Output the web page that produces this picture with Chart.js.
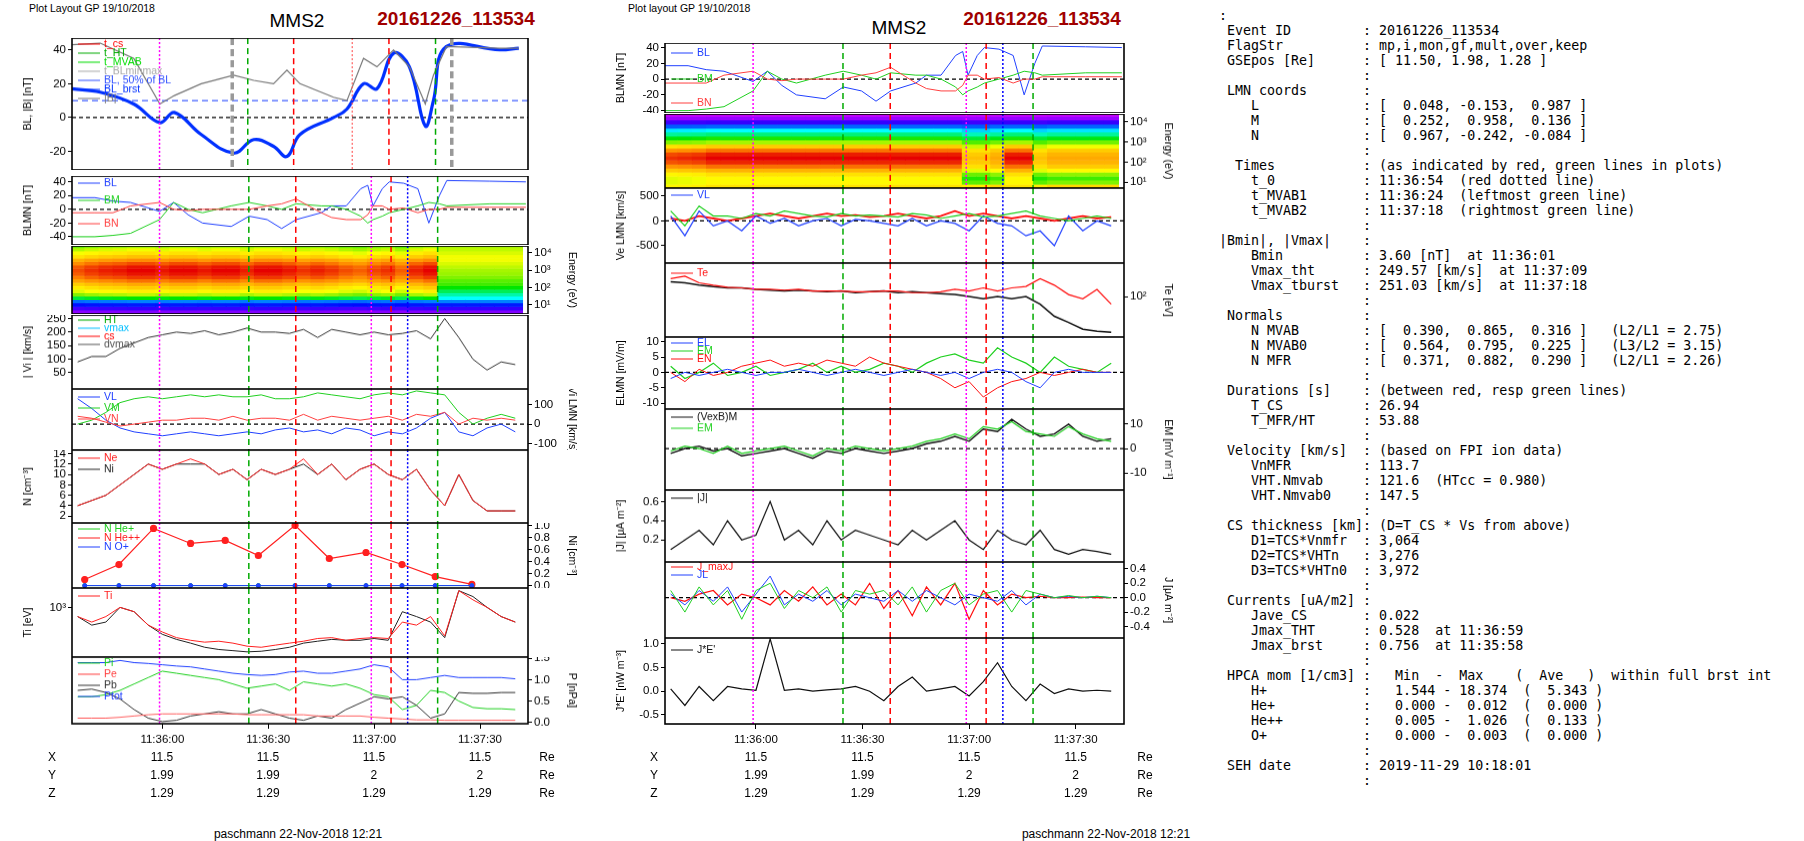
<!DOCTYPE html>
<html><head><meta charset="utf-8">
<script src="https://cdn.jsdelivr.net/npm/chart.js@4/dist/chart.umd.min.js"></script>
<style>
body{margin:0;background:#fff;width:1804px;height:841px;position:relative;overflow:hidden;font-family:"Liberation Sans",Arial,sans-serif}
canvas{position:absolute}
.t{position:absolute;white-space:pre;color:#000}
#info{position:absolute;left:1219px;top:8px;font-family:"DejaVu Sans Mono",monospace;font-size:13.3px;line-height:15px;white-space:pre}
</style></head><body>
<div id="info"></div>
<script>
// ---------------- DATA ----------------
const timeTicks = [30, 60, 90, 120];
const timeTickLabels = ['11:36:00', '11:36:30', '11:37:00', '11:37:30'];
const T = [6,10,14,18,22,26,30,34,38,42,46,50,54,58,62,66,70,74,78,82,86,90,94,98,102,106,110,114,118,122,126,130];
// left panel 1 (smoothed BL and |B|)
const T_BLs = [4.4,12.4,21.9,29.3,33.4,41,50.2,55.9,61.5,65.3,69,78.5,82.3,87,90.8,95.5,100,104.5,106.8,110.5,125.6,131];
const BL_smooth = [17,15,8,-3,3,-10,-21,-13,-17,-23,-10,0,5,20,17,38,30,-5,10,42,40,41];
const B_mag = [43,44,35,8,13,20,25,22,20,28,20,12,10,35,30,40,30,8,25,42,41,41];
// B LMN
const T_B = [4.4,10.9,16,21,29.2,33.2,37.3,41.4,49.5,54.6,59.7,63.8,67.9,75,78,82.1,86.2,88.2,89.7,92.3,94.3,98.4,102.4,105.5,108.5,110.6,122.8,133];
const B_L = [17,17,12,10,-3,10,-8,-20,-25,-10,-15,-28,-15,-5,5,5,30,35,5,30,40,38,30,-20,20,42,41,40];
const B_M = [-40,-40,-38,-35,-15,10,0,-5,5,10,5,0,8,5,5,0,-10,-20,-15,-10,-5,0,5,10,8,5,8,8];
const B_N = [-5,-5,-5,5,10,0,-2,0,0,0,5,8,15,-5,-12,-15,-15,-8,5,5,0,2,-5,0,0,3,3,3];
// ion velocity
const Vi_mag = [90,110,110,140,160,180,190,200,195,205,190,200,215,200,200,195,210,180,210,200,190,200,190,195,205,175,250,180,100,60,90,80];
const Vi_L = [130,80,20,-20,-40,-50,-60,-50,-40,-50,-60,-50,-40,-50,-30,-20,-40,-30,-50,-20,-30,-60,-40,-50,-20,30,60,-40,-60,-20,0,-40];
const Vi_M = [0,20,60,110,130,140,130,140,150,140,150,140,140,150,130,130,140,160,150,140,130,150,160,150,170,160,150,60,0,30,50,30];
const Vi_N = [40,30,10,-10,0,10,20,20,30,30,20,40,20,30,30,20,50,20,40,30,20,30,40,20,50,40,60,0,30,20,30,20];
// densities
const N_e = [4,5,6,8,10,12,11,12,13,12,10,11,9,11,10,11,13,10,12,9,11,12,10,9,11,7,4,10,5,3,3,3];
const N_i = [4,5,6,8,10,12,11,12,12,12,10,11,9,11,10,11,12,10,12,9,11,12,10,9,11,7,4,10,5,3,3,3];
const T_He = [8,17.7,27.5,38,47.8,57.2,67.6,77.3,87.7,97.9,107.3,117.7];
const N_Hepp = [0.1,0.35,0.95,0.7,0.75,0.5,1.0,0.45,0.55,0.35,0.15,0.02];
const N_Hep = [0,0,0,0,0,0,0,0,0,0,0,0];
const N_Op = [0,0,0,0,0,0,0,0,0,0,0,0];
// ion temperature
const Ti_par = [800,700,800,1000,900,650,550,480,450,430,440,420,390,380,400,420,440,470,480,450,470,480,470,700,650,800,500,1500,1200,1000,800,700];
const Ti_perp = [800,650,700,1000,900,650,520,460,420,380,360,350,340,345,360,380,420,440,460,450,450,470,450,900,800,700,480,1500,1300,1000,800,700];
// pressures
const P_tot = [1.4,1.4,1.4,1.45,1.4,1.38,1.35,1.32,1.3,1.25,1.2,1.15,1.12,1.1,1.12,1.18,1.2,1.15,1.15,1.2,1.25,1.35,1.3,1.0,1.0,1.05,1.1,1.05,1.05,1.05,1.05,1.02];
const P_i = [0.6,0.6,0.65,0.75,0.9,1.05,1.2,1.15,1.1,1.05,1.0,0.9,0.8,0.85,0.9,0.75,0.95,0.9,0.85,0.9,0.8,0.65,0.6,0.3,0.4,0.75,0.7,0.5,0.35,0.32,0.32,0.3];
const P_e = [0.1,0.1,0.1,0.12,0.15,0.18,0.2,0.2,0.2,0.2,0.2,0.2,0.18,0.18,0.18,0.18,0.18,0.15,0.15,0.15,0.15,0.12,0.1,0.08,0.06,0.06,0.05,0.05,0.05,0.05,0.05,0.05];
const P_B = [0.75,0.78,0.7,0.55,0.3,0.1,0.02,0.05,0.15,0.2,0.25,0.2,0.2,0.3,0.2,0.1,0.05,0.15,0.1,0.3,0.45,0.6,0.55,0.6,0.4,0.1,0.2,0.7,0.68,0.68,0.7,0.7];
// electron velocity
const Ve_L = [100,-300,200,-100,0,-200,100,-50,50,-100,0,50,-100,30,0,-50,-100,50,-100,0,-50,-200,100,-50,-100,-300,-200,-500,100,-200,0,-100];
const Ve_M = [200,-100,300,100,100,50,150,100,200,150,100,80,150,100,120,100,80,150,120,50,100,150,80,100,150,200,100,50,0,50,100,50];
const Ve_N = [50,0,100,50,0,50,100,150,100,50,100,150,100,120,80,100,150,100,50,100,200,100,150,100,50,100,50,0,50,100,50,80];
// electron temperature
const Te_perp = [200,190,170,160,150,150,140,135,130,135,130,125,130,120,125,130,120,125,120,115,110,100,90,100,90,100,70,40,30,22,20,19];
const Te_par = [230,260,190,170,155,150,140,140,135,140,130,130,130,125,125,130,130,120,120,125,140,130,150,130,150,160,230,170,110,90,140,70];
// electric field
const E_L = [-2,0,-1,0,1,0,-1,0,0,1,0,-1,0,1,0,-1,0,1,0,-1,0,-2,0,1,0,-3,-5,0,1,0,0,0];
const E_M = [2,-2,0,3,-1,0,2,-1,0,1,3,0,2,0,1,3,2,0,3,5,6,4,3,8,5,3,0,5,2,1,0,3];
const E_N = [0,-3,1,-1,0,2,3,4,2,3,2,4,3,2,5,3,2,1,0,-2,-5,-3,-8,-5,-3,-2,0,-1,0,1,0,0];
const EM_vexb = [-2,0,1,-1,0,-3,-2,-1,0,-2,-4,-1,-2,0,-1,-2,-1,0,2,3,5,3,8,7,12,8,5,6,10,5,3,4];
const EM_meas = [-1,1,0,-2,1,-2,-1,0,1,-1,-3,0,-1,1,0,-1,0,1,3,4,6,4,9,8,11,7,6,5,9,6,4,3];
// currents
const J_mag = [0.1,0.2,0.3,0.15,0.4,0.2,0.25,0.6,0.2,0.3,0.15,0.4,0.2,0.3,0.25,0.2,0.15,0.3,0.2,0.3,0.4,0.2,0.1,0.3,0.2,0.15,0.3,0.1,0.05,0.1,0.08,0.05];
const J_L = [0.05,-0.1,0.1,-0.05,0.15,-0.2,0.05,0.3,-0.1,0.05,-0.05,0.1,-0.1,0.05,0,-0.05,0.1,-0.05,0.1,0,-0.1,0.05,0,-0.05,0.1,-0.1,0.05,0,0.02,0,0.02,0];
const J_M = [0.1,-0.2,0.15,-0.1,0.1,-0.3,0.1,0.2,-0.15,0.1,0,0.15,-0.2,0.1,0.05,0.1,-0.1,0.15,-0.2,0.1,0.2,-0.1,0.05,0.1,-0.2,0.1,0.05,0,0.03,0,0.02,0];
const J_N = [0,-0.05,0.05,0.1,-0.1,0.05,0,-0.1,0.1,-0.05,0.15,-0.1,0.05,-0.1,0.2,-0.15,0.1,-0.25,0.15,-0.1,0.2,-0.3,0.1,-0.1,0.05,0,0.02,0,0,0.01,0,0];
const JE = [0.05,-0.3,0.1,-0.2,0.1,0.05,0.02,1.1,0.02,0.05,0,0.03,0.05,0.1,0,-0.2,0.1,0.3,0,0.05,0.1,-0.1,0.2,0.6,0.1,-0.2,0.15,-0.05,0.05,0,0.02,0];
// spectrograms
const E_edges = [3,5,8,13,20,32,50,80,130,200,320,500,800,1300,2000,3200,5000,8000,13000,20000,32000];
const ionProfileSheath = [0.05,0.08,0.12,0.2,0.45,0.6,0.68,0.74,0.8,0.88,0.94,0.98,1.0,0.98,0.92,0.85,0.76,0.7,0.64,0.58];
const ionProfileSphere = [0.05,0.08,0.12,0.2,0.3,0.35,0.4,0.45,0.5,0.52,0.55,0.57,0.58,0.6,0.62,0.64,0.64,0.62,0.6,0.58];
const ionRegime = [0,0,0,0,0,0,0,0,0,0,0,0,0,0,0,0,0,0,0,0,0,0,0,0,0,0,1,1,1,1,1,1];
const ionIntensity = [0.92,0.95,0.97,0.98,1,1,0.98,1,1,0.98,1,1,0.97,1,1,0.98,0.95,0.97,0.95,0.92,0.9,0.93,0.95,0.9,0.97,1,1,1,1,1,1,1];
const eProfileSheath = [0.72,0.7,0.66,0.66,0.7,0.78,0.88,0.96,1.0,0.97,0.88,0.74,0.58,0.47,0.38,0.3,0.18,0.08,0.04,0.02];
const eProfileSphere = [0.78,0.72,0.55,0.5,0.56,0.66,0.74,0.78,0.8,0.78,0.74,0.64,0.54,0.44,0.36,0.28,0.18,0.08,0.04,0.02];
const eRegime = [0,0,0,0,0,0,0,0,0,0,0,0,0,0,0,0,0,0,0,0,0,1,1,1,0,0,1,1,1,1,1,1];
const eIntensity = [0.95,0.96,0.97,1,1,1,1,1,1,1,1,1,1,1,1,1,1,1,1,1,1,0.95,0.95,1,1,1,0.95,1,1,1,1,1];
// coordinate table
const posX = ['11.5','11.5','11.5','11.5'];
const posY = ['1.99','1.99','2','2'];
const posZ = ['1.29','1.29','1.29','1.29'];
// event marker lines [time, color, dash, width]
const markers = [[29.2,'#ff00ff',[2,2],1.5],[54.5,'#00aa00',[6,4],1.5],[67.8,'#ff0000',[6,4],1.5],[89.2,'#ff00ff',[2,2],1.5],[94.8,'#ff0000',[6,4],1.5],[99.5,'#0000ff',[2,2],1.5],[108,'#00aa00',[6,4],1.5]];
const markersP1 = [[29.2,'#ff00ff',[2,2],1.5],[49.8,'#999999',[7,4],3.5],[54.2,'#00aa00',[6,4],1.5],[67.2,'#ff0000',[6,4],1.5],[83.8,'#ff6060',[2,2],1.2],[94.2,'#ff0000',[6,4],1.5],[107.4,'#00aa00',[6,4],1.5],[112,'#999999',[7,4],3.5]];

// ---------------- LAYOUT / DRAWING ----------------
const S = 1804/1564;
const TMIN = 4.4, TMAX = 133.6;
const COLS = {L:{x0:71.5,x1:528}, R:{x0:665,x1:1124}};
const PAD = 50;

function cmap(v){
  const st=[[0,[255,0,255]],[0.1,[0,0,255]],[0.3,[0,255,255]],[0.45,[0,230,0]],[0.65,[255,255,0]],[0.85,[255,140,0]],[1,[230,0,0]]];
  v=Math.max(0,Math.min(1,v));
  for(let i=1;i<st.length;i++){ if(v<=st[i][0]){const a=st[i-1],b=st[i];const f=(v-a[0])/(b[0]-a[0]);
    return 'rgb('+a[1].map((c,k)=>Math.round(c+(b[1][k]-c)*f)).join(',')+')';}}
  return 'rgb(230,0,0)';
}

Chart.register({id:'deco',
  beforeDatasetsDraw(chart){
    const o=chart.options.plugins.deco||{}; const ctx=chart.ctx; const ca=chart.chartArea;
    if(o.spec){ const sp=o.spec, xs=chart.scales.x, ys=chart.scales.y;
      ctx.save(); ctx.beginPath(); ctx.rect(ca.left,ca.top,ca.right-ca.left,ca.bottom-ca.top); ctx.clip();
      T.forEach((t,i)=>{ const prof=sp.profiles[sp.regime[i]];
        const xa=xs.getPixelForValue(t-2.05), xb=xs.getPixelForValue(t+2.05);
        for(let j=0;j<prof.length;j++){ const ya=ys.getPixelForValue(E_edges[j]), yb=ys.getPixelForValue(E_edges[j+1]);
          ctx.fillStyle=cmap(prof[j]*sp.intensity[i]); ctx.fillRect(xa,yb,xb-xa+0.5,ya-yb+0.5);} });
      ctx.restore(); }
    (o.hlines||[]).forEach(h=>{ const y=chart.scales.y.getPixelForValue(h[0]); ctx.save(); ctx.strokeStyle=h[1]; ctx.lineWidth=1.2; ctx.setLineDash(h[2]); ctx.beginPath(); ctx.moveTo(ca.left,y); ctx.lineTo(ca.right,y); ctx.stroke(); ctx.restore(); });
  },
  afterDatasetsDraw(chart){
    const o=chart.options.plugins.deco||{}; const ctx=chart.ctx; const ca=chart.chartArea;
    (o.markers||[]).forEach(m=>{ const x=chart.scales.x.getPixelForValue(m[0]); ctx.save(); ctx.strokeStyle=m[1]; ctx.lineWidth=m[3]; ctx.setLineDash(m[2]); ctx.beginPath(); ctx.moveTo(x,ca.top); ctx.lineTo(x,ca.bottom); ctx.stroke(); ctx.restore(); });
    (o.labels||[]).forEach((l,i)=>{ ctx.save(); ctx.font='10.5px "Liberation Sans",Arial'; const x=ca.left+(l[2]||6), y=ca.top+(l[3]!==undefined?l[3]:9+i*11);
      if(l[4]!==false){ctx.strokeStyle=l[1]; ctx.lineWidth=1; ctx.beginPath(); ctx.moveTo(x,y); ctx.lineTo(x+22,y); ctx.stroke();}
      ctx.fillStyle=l[1]; ctx.textBaseline='middle'; ctx.fillText(l[0],x+(l[4]===false?0:26),y); ctx.restore(); });
    ctx.save(); ctx.strokeStyle='#000'; ctx.lineWidth=1.6; ctx.setLineDash([]); ctx.strokeRect(ca.left,ca.top,ca.right-ca.left,ca.bottom-ca.top); ctx.restore();
  }});

function series(xs, ys, color, width, extra){
  return Object.assign({data:xs.map((x,i)=>({x:x,y:ys[i]})), borderColor:color, backgroundColor:color, borderWidth:width||1, pointRadius:0, tension:0, yAxisID:'y'}, extra||{});
}

function panel(col, topV, botV, cfg){
  const c=COLS[col]; const top=topV*S, bot=botV*S; const xh=cfg.bottom?30:0;
  const cv=document.createElement('canvas'); const w=(c.x1-c.x0)+2*PAD, h=(bot-top)+xh;
  cv.width=w; cv.height=h; cv.style.left=(c.x0-PAD)+'px'; cv.style.top=top+'px'; cv.style.width=w+'px'; cv.style.height=h+'px';
  document.body.appendChild(cv);
  const tickFont={size:11.5,family:'"Liberation Sans",Arial'};
  function yAxis(pos){ const shown = pos===cfg.side;
    const ax={type:cfg.type||'linear', position:pos, min:cfg.min, max:cfg.max,
      afterFit:s=>{s.width=PAD; s.paddingTop=0; s.paddingBottom=0;},
      grid:{display:true,drawOnChartArea:false,drawTicks:true,tickLength:shown?4:0,color:'#000'},
      border:{display:false},
      ticks:{display:shown,font:tickFont,color:'#000',padding:2,autoSkip:false,callback:cfg.fmt||(v=>v)},
      title:{display:shown&&!!cfg.title,text:cfg.title,font:{size:10.5,family:'"Liberation Sans",Arial'},color:'#000',padding:{top:0,bottom:0}}};
    if(cfg.tickVals) ax.afterBuildTicks=s=>{s.ticks=cfg.tickVals.map(v=>({value:v}));};
    return ax; }
  new Chart(cv,{type:'line',data:{datasets:cfg.datasets||[]},options:{
    responsive:false, animation:false, devicePixelRatio:1,
    layout:{autoPadding:false,padding:0},
    plugins:{legend:{display:false},tooltip:{enabled:false},
      deco:{markers:cfg.markers||markers, labels:cfg.labels, hlines:cfg.hlines, spec:cfg.spec}},
    scales:{
      x:{type:'linear',min:TMIN,max:TMAX,display:!!cfg.bottom,
        afterFit:s=>{s.height=xh; s.paddingLeft=0; s.paddingRight=0;}, afterBuildTicks:s=>{s.ticks=timeTicks.map(v=>({value:v}));},
        grid:{display:true,drawOnChartArea:false,tickLength:5,color:'#000'}, border:{display:false},
        ticks:{font:tickFont,color:'#000',maxRotation:0,padding:4,callback:v=>timeTickLabels[timeTicks.indexOf(v)]}},
      y:yAxis('left'), y2:yAxis('right')}}});
}
const sup={1:'¹',2:'²',3:'³',4:'⁴'};
const logFmt=v=>'10'+sup[Math.round(Math.log10(v))];

// ---- LEFT COLUMN ----
panel('L',33,147,{side:'left',min:-31,max:47,tickVals:[-20,0,20,40],title:'BL, |B| [nT]',markers:markersP1,
  hlines:[[0,'#000',[4,3]],[10,'#4060ff',[6,4]]],
  datasets:[series(T_BLs,B_mag,'#777',1.2),series(T_BLs,BL_smooth,'#0030ff',3.2,{tension:0.4})],
  labels:[['t_cs','#ff0000',6,6],['t_HT','#00aa00',6,15],['t_MVAB','#00dd00',6,24],['t_BLminmax','#aaa',6,33],['BL, 50% of BL','#3050ff',6,42],['BL_brst','#0030ff',6,51],['|B|','#777',6,60]]});
panel('L',153,212,{side:'left',min:-52,max:48.5,tickVals:[-40,-20,0,20,40],title:'BLMN [nT]',
  hlines:[[0,'#000',[4,3]]],
  datasets:[series(T_B,B_N,'#ff4040',1),series(T_B,B_M,'#20d020',1),series(T_B,B_L,'#2040ff',1)],
  labels:[['BL','#2040ff',6,7],['BM','#20d020',6,24],['BN','#ff4040',6,47]]});
panel('L',213,272,{side:'right',type:'logarithmic',min:2.9,max:25000,tickVals:[10,100,1000,10000],fmt:logFmt,title:'Energy (eV)',
  spec:{profiles:[ionProfileSheath,ionProfileSphere],regime:ionRegime,intensity:ionIntensity}});
panel('L',273,337,{side:'left',min:-10,max:263,tickVals:[50,100,150,200,250],title:'| Vi | [km/s]',
  datasets:[series(T,Vi_mag,'#333',1)],
  labels:[['HT','#00aa00',6,5],['vmax','#00bfff',6,13],['cs','#ff0000',6,21],['dvmax','#555',6,29]]});
panel('L',337,390,{side:'right',min:-133,max:180,tickVals:[-100,0,100],title:'Vi LMN [km/s]',
  hlines:[[0,'#000',[4,3]]],
  datasets:[series(T,Vi_N,'#ff4040',1),series(T,Vi_M,'#20d020',1),series(T,Vi_L,'#2040ff',1)],
  labels:[['VL','#2040ff',6,8],['VM','#20d020',6,19],['VN','#ff4040',6,30]]});
panel('L',390,453,{side:'left',min:0.67,max:14.7,tickVals:[2,4,6,8,10,12,14],title:'N [cm⁻³]',
  datasets:[series(T,N_e,'#ff2020',1),series(T,N_i,'#222',1)],
  labels:[['Ne','#ff2020',6,8],['Ni','#222',6,19]]});
panel('L',453,510,{side:'right',min:-0.04,max:1.04,tickVals:[0,0.2,0.4,0.6,0.8,1.0],fmt:v=>v.toFixed(1),title:'Ni [cm⁻³]',
  datasets:[series(T_He,N_Op,'#2040ff',1,{pointRadius:2}),series(T_He,N_Hep,'#20d020',1,{pointRadius:2}),series(T_He,N_Hepp,'#ff2020',1.2,{pointRadius:3})],
  labels:[['N He+','#20d020',6,6],['N He++','#ff2020',6,15],['N O+','#2040ff',6,24]]});
panel('L',510,570,{side:'left',type:'logarithmic',min:300,max:1600,tickVals:[1000],fmt:logFmt,title:'Ti [eV]',
  datasets:[series(T,Ti_par,'#ff2020',1),series(T,Ti_perp,'#222',1)],
  labels:[['Ti','#ff2020',6,8]]});
panel('L',570,628,{side:'right',min:-0.03,max:1.53,tickVals:[0,0.5,1.0,1.5],fmt:v=>v.toFixed(1),title:'P [nPa]',bottom:true,
  datasets:[series(T,P_e,'#ff6060',1),series(T,P_B,'#333',1),series(T,P_i,'#20d020',1),series(T,P_tot,'#2040ff',1)],
  labels:[['Pi','#20d020',6,6],['Pe','#ff4040',6,17],['Pb','#333',6,28],['Ptot','#2040ff',6,39]]});

// ---- RIGHT COLUMN ----
panel('R',37,98,{side:'left',min:-43,max:45.8,tickVals:[-40,-20,0,20,40],title:'BLMN [nT]',
  hlines:[[0,'#000',[4,3]]],
  datasets:[series(T_B,B_N,'#ff4040',1),series(T_B,B_M,'#20d020',1),series(T_B,B_L,'#2040ff',1)],
  labels:[['BL','#2040ff',6,10],['BM','#20d020',6,36],['BN','#ff4040',6,60]]});
panel('R',99,163,{side:'right',type:'logarithmic',min:5.1,max:25400,tickVals:[10,100,1000,10000],fmt:logFmt,title:'Energy (eV)',
  spec:{profiles:[eProfileSheath,eProfileSphere],regime:eRegime,intensity:eIntensity}});
panel('R',163,228,{side:'left',min:-849,max:663,tickVals:[-500,0,500],title:'Ve LMN [km/s]',
  hlines:[[0,'#000',[4,3]]],
  datasets:[series(T,Ve_M,'#20d020',1.2),series(T,Ve_L,'#2040ff',1.2),series(T,Ve_N,'#ff1010',1.8)],
  labels:[['VL','#2040ff',6,7]]});
panel('R',228,292,{side:'right',type:'logarithmic',min:15.2,max:477,tickVals:[100],fmt:logFmt,title:'Te [eV]',
  datasets:[series(T,Te_par,'#ff1010',1.2),series(T,Te_perp,'#111',1.5)],
  labels:[['Te','#ff1010',6,10]]});
panel('R',292,355,{side:'left',min:-11.9,max:11.5,tickVals:[-10,-5,0,5,10],title:'ELMN [mV/m]',
  hlines:[[0,'#000',[4,3]]],
  datasets:[series(T,E_L,'#2040ff',1),series(T,E_N,'#ff1010',1),series(T,E_M,'#20d020',1.2)],
  labels:[['EL','#2040ff',6,6],['EM','#20d020',6,14],['EN','#ff1010',6,22]]});
panel('R',355,425,{side:'right',min:-17,max:16.2,tickVals:[-10,0,10],title:'EM [mV m⁻¹]',
  hlines:[[0,'#000',[4,3]]],
  datasets:[series(T,EM_meas,'#20d020',1.2),series(T,EM_vexb,'#111',1.4)],
  labels:[['(VexB)M','#111',6,8],['EM','#20d020',6,19]]});
panel('R',425,487,{side:'left',min:-0.03,max:0.72,tickVals:[0.2,0.4,0.6],fmt:v=>v.toFixed(1),title:'|J| [μA m⁻²]',
  datasets:[series(T,J_mag,'#111',1.2)],
  labels:[['|J|','#111',6,8]]});
panel('R',487,553,{side:'right',min:-0.56,max:0.496,tickVals:[-0.4,-0.2,0,0.2,0.4],fmt:v=>v.toFixed(1),title:'J [μA m⁻²]',
  hlines:[[0,'#000',[4,3]]],
  datasets:[series(T,J_M,'#20d020',1),series(T,J_L,'#2040ff',1),series(T,J_N,'#ff1010',1.2)],
  labels:[['J_maxJ','#ff1010',6,5],['JL','#2040ff',6,13]]});
panel('R',553,628,{side:'left',min:-0.69,max:1.12,tickVals:[-0.5,0,0.5,1.0],fmt:v=>v.toFixed(1),title:"J*E' [nW m⁻³]",bottom:true,
  datasets:[series(T,JE,'#111',1.2)],
  labels:[["J*E'",'#111',6,12]]});

// ---- TEXTS ----
function txt(s,x,y,css,center){ const d=document.createElement('div'); d.className='t'; d.textContent=s;
  d.style.cssText+=';left:'+x+'px;top:'+y+'px;'+(css||'')+(center?';transform:translate(-50%,-50%)':';transform:translateY(-50%)'); document.body.appendChild(d); }
txt('Plot Layout GP 19/10/2018',29,8,'font-size:10.5px');
txt('Plot layout GP 19/10/2018',628,8,'font-size:10.5px');
txt('MMS2',297,21,'font-size:19px',true);
txt('20161226_113534',456,19,'font-size:19px;font-weight:bold;color:#a00000',true);
txt('MMS2',899,28,'font-size:19px',true);
txt('20161226_113534',1042,19,'font-size:19px;font-weight:bold;color:#a00000',true);
txt('paschmann 22-Nov-2018 12:21',298,834,'font-size:12px',true);
txt('paschmann 22-Nov-2018 12:21',1106,834,'font-size:12px',true);
[['L',52,547],['R',654,1145]].forEach(([col,xl,xr])=>{
  const c=COLS[col];
  const px=timeTicks.map(t=>c.x0+(t-TMIN)/(TMAX-TMIN)*(c.x1-c.x0));
  [['X',posX,757],['Y',posY,775],['Z',posZ,793]].forEach(([lab,vals,y])=>{
    txt(lab,xl,y,'font-size:12px',true); vals.forEach((v,i)=>txt(v,px[i],y,'font-size:12px',true)); txt('Re',xr,y,'font-size:12px',true);});
});
const infoLines = [
':',
' Event ID         : 20161226_113534',
' FlagStr          : mp,i,mon,gf,mult,over,keep',
' GSEpos [Re]      : [ 11.50, 1.98, 1.28 ]',
'                  :',
' LMN coords       :',
'    L             : [  0.048, -0.153,  0.987 ]',
'    M             : [  0.252,  0.958,  0.136 ]',
'    N             : [  0.967, -0.242, -0.084 ]',
'                  :',
'  Times           : (as indicated by red, green lines in plots)',
'    t_0           : 11:36:54  (red dotted line)',
'    t_MVAB1       : 11:36:24  (leftmost green line)',
'    t_MVAB2       : 11:37:18  (rightmost green line)',
'                  :',
'|Bmin|, |Vmax|    :',
'    Bmin          : 3.60 [nT]  at 11:36:01',
'    Vmax_tht      : 249.57 [km/s]  at 11:37:09',
'    Vmax_tburst   : 251.03 [km/s]  at 11:37:18',
'                  :',
' Normals          :',
'    N MVAB        : [  0.390,  0.865,  0.316 ]   (L2/L1 = 2.75)',
'    N MVAB0       : [  0.564,  0.795,  0.225 ]   (L3/L2 = 3.15)',
'    N MFR         : [  0.371,  0.882,  0.290 ]   (L2/L1 = 2.26)',
'                  :',
' Durations [s]    : (between red, resp green lines)',
'    T_CS          : 26.94',
'    T_MFR/HT      : 53.88',
'                  :',
' Velocity [km/s]  : (based on FPI ion data)',
'    VnMFR         : 113.7',
'    VHT.Nmvab     : 121.6  (HTcc = 0.980)',
'    VHT.Nmvab0    : 147.5',
'                  :',
' CS thickness [km]: (D=T_CS * Vs from above)',
'    D1=TCS*Vnmfr  : 3,064',
'    D2=TCS*VHTn   : 3,276',
'    D3=TCS*VHTn0  : 3,972',
'                  :',
' Currents [uA/m2] :',
'    Jave_CS       : 0.022',
'    Jmax_THT      : 0.528  at 11:36:59',
'    Jmax_brst     : 0.756  at 11:35:58',
'                  :',
' HPCA mom [1/cm3] :   Min  -  Max    (  Ave   )  within full brst int',
'    H+            :   1.544 - 18.374  (  5.343 )',
'    He+           :   0.000 -  0.012  (  0.000 )',
'    He++          :   0.005 -  1.026  (  0.133 )',
'    O+            :   0.000 -  0.003  (  0.000 )',
'                  :',
' SEH date         : 2019-11-29 10:18:01',
'                  :'];
document.getElementById('info').textContent=infoLines.join('\n');
</script></body></html>
